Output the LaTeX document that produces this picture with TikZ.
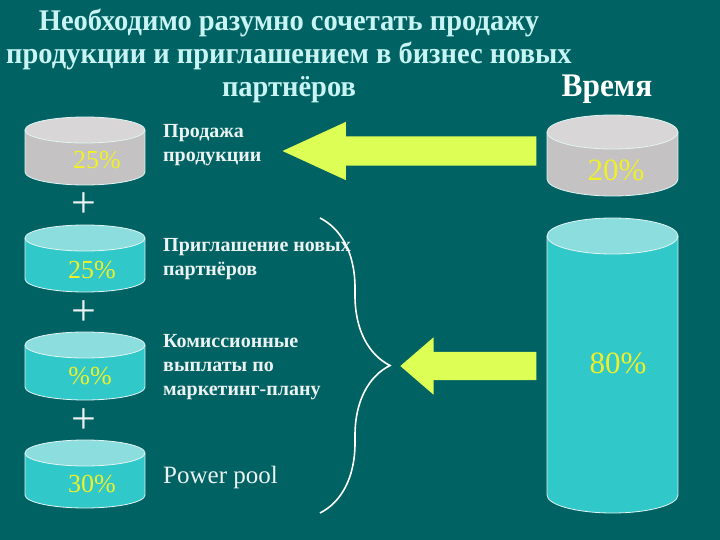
\documentclass[tikz,border=0pt]{standalone}
\usepackage{fontspec}
\setmainfont{Liberation Serif}
\newfontfamily\narrowfont[FakeStretch=0.95]{Liberation Serif}
\usetikzlibrary{shapes.arrows,decorations.pathreplacing}
\definecolor{board}{RGB}{0,98,98}
\definecolor{titlecol}{RGB}{200,244,244}
\definecolor{labelcol}{RGB}{236,242,242}
\definecolor{pctcol}{RGB}{240,240,40}
\definecolor{arrowcol}{RGB}{221,255,85}
\definecolor{greybody}{RGB}{196,194,194}
\definecolor{greytop}{RGB}{216,214,214}
\definecolor{cyanbody}{RGB}{48,200,200}
\definecolor{cyantop}{RGB}{140,222,222}
\definecolor{rimcol}{RGB}{226,244,244}

% centre x, top cap y, bottom cap y, half width, cap radius, body, top, name
\newcommand{\drum}[8]{%
  \fill[#6] (#1-#4,#2) rectangle (#1+#4,#3);
  \fill[#6] (#1,#3) ellipse [x radius=#4, y radius=#5];
  \fill[#7] (#1,#2) ellipse [x radius=#4, y radius=#5];
  \draw[rim] (#1,#2) ellipse [x radius=#4, y radius=#5];
  \draw[rim] (#1-#4,#2) -- (#1-#4,#3) arc [start angle=180, end angle=0, x radius=#4, y radius=#5] -- (#1+#4,#2);
  \coordinate (#8) at (#1,#3);
}

\begin{document}
\begin{tikzpicture}[x=1pt,y=-1pt]

\tikzset{rim/.style = {draw=rimcol,line width=0.8pt}}
\tikzset{pct/.style = {text=pctcol,font=\fontsize{26}{26}\selectfont,inner sep=0pt}}
\tikzset{bigpct/.style = {pct,font=\fontsize{31}{31}\selectfont}}
\tikzset{plus/.style = {text=labelcol,font=\fontsize{44}{44}\selectfont,inner sep=0pt}}
\tikzset{itemtext/.style = {anchor=west,align=left,inner sep=0pt,text=labelcol,font=\bfseries\fontsize{20}{24}\selectfont}}
\tikzset{titletext/.style = {align=center,inner sep=0pt,text=titlecol,font=\narrowfont\bfseries\fontsize{30}{33}\selectfont}}
\tikzset{blockarrow/.style = {shape=single arrow,shape border rotate=180,fill=arrowcol,inner xsep=0pt,anchor=tip}}
\tikzset{curly/.style = {decorate,decoration={brace,amplitude=70pt},draw=white,line width=1.6pt}}

% background
\fill[board] (0,0) rectangle (720,540);

% title
\node[titletext] (head) at (289,56) {Необходимо разумно сочетать продажу\\продукции и приглашением в бизнес новых\\партнёров};
\node[titletext,anchor=base,text=white,font=\narrowfont\bfseries\fontsize{33}{33}\selectfont] (time) at (607,97) {Время};

% left drums
\drum{85}{130}{172}{60}{13}{greybody}{greytop}{d1}
\drum{85}{238}{279}{60}{13}{cyanbody}{cyantop}{d2}
\drum{85}{345}{387}{60}{13}{cyanbody}{cyantop}{d3}
\drum{85}{453}{495}{60}{13}{cyanbody}{cyantop}{d4}

\node[pct] (p1) at (97,160) {25\%};
\node[pct] (p2) at (92,270) {25\%};
\node[pct] (p3) at (90,376) {\%\%};
\node[pct] (p4) at (92,484) {30\%};

\node[plus] (plus1) at (84,205) {+};
\node[plus] (plus2) at (84,313) {+};
\node[plus] (plus3) at (84,421) {+};

% captions
\node[itemtext] (t1) at (163,145) {Продажа\\продукции};
\node[itemtext] (t2) at (163,259) {Приглашение новых\\партнёров};
\node[itemtext] (t3) at (163,367) {Комиссионные\\выплаты по\\маркетинг-плану};
\node[itemtext,font=\fontsize{25}{25}\selectfont] (t4) at (163,477) {Power pool};

% right drums
\drum{612.5}{132}{179}{65.5}{17}{greybody}{greytop}{r1}
\drum{612.5}{236}{495}{65.5}{18}{cyanbody}{cyantop}{r2}

\node[bigpct] (p5) at (616,170) {20\%};
\node[bigpct] (p6) at (618,363) {80\%};

% arrows
\node[blockarrow,inner ysep=14.5pt,minimum height=254pt,single arrow head extend=14.5pt,single arrow tip angle=49.4] (sell) at (282,151) {};
\node[blockarrow,inner ysep=14pt,minimum height=136pt,single arrow head extend=14.5pt,single arrow tip angle=81.6] (pay) at (400,366) {};

% brace
\coordinate (btop) at (320,218);
\coordinate (bbot) at (320,513);
\draw[curly] (btop) -- (bbot);

\end{tikzpicture}
\end{document}
